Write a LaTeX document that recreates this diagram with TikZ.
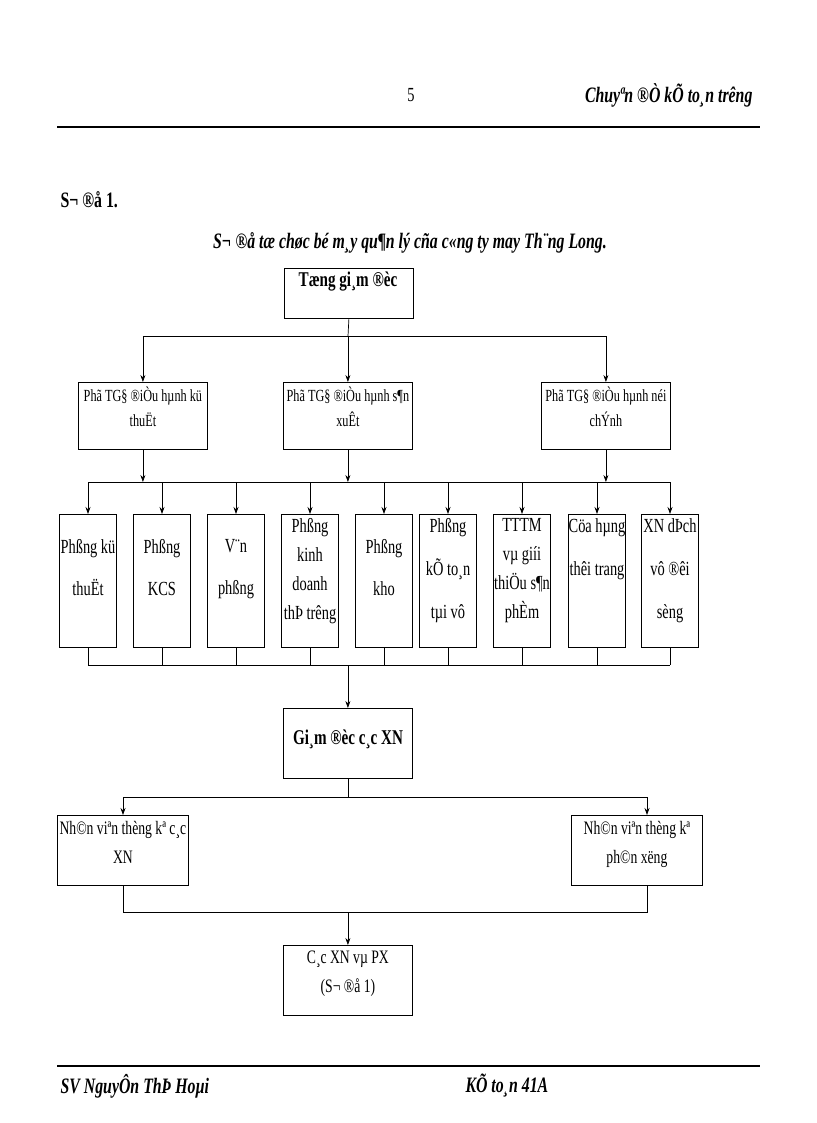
\documentclass[tikz,border=0pt]{standalone}
\usepackage{fontspec}
\setmainfont{Liberation Serif}[FakeStretch=0.72]
\usetikzlibrary{arrows.meta}
\begin{document}
\begin{tikzpicture}[x=1pt,y=-1pt,
  bx/.style={draw,line width=0.8pt,inner sep=0,anchor=north west},
  tx/.style={align=center,inner sep=0,anchor=north},
  ar/.style={-{Stealth[length=7pt,width=5pt]},line width=0.7pt},
  ln/.style={line width=0.7pt}]
\useasboundingbox (0,0) rectangle (816,1123);
% header/footer
\node[font=\fontsize{20}{20}\selectfont] (pg) at (411,95) {5};
\node[anchor=east,font=\bfseries\itshape\fontsize{22}{22}\selectfont] (hd) at (756,95) {Chuyªn ®Ò kÕ to¸n trêng};
\draw[line width=2.5pt] (57,127) -- (760,127);
\draw[line width=2.5pt] (57,1066) -- (760,1066);
\node[anchor=west,font=\bfseries\itshape\fontsize{22}{22}\selectfont] (f1) at (57,1086) {SV NguyÔn ThÞ Hoµi};
\node[anchor=west,font=\bfseries\itshape\fontsize{22}{22}\selectfont] (f2n) at (462,1086) {KÕ to¸n 41A};
\node[anchor=west,font=\bfseries\fontsize{22}{22}\selectfont] (s1) at (57,200) {S¬ ®å 1.};
\node[font=\bfseries\itshape\fontsize{22}{22}\selectfont] (ti) at (410,243) {S¬ ®å tæ chøc bé m¸y qu¶n lý cña c«ng ty may Th¨ng Long.};
% top
\node[bx,minimum width=129,minimum height=50] (top) at (284,268) {};
\node[tx,font=\bfseries\fontsize{21}{22}\selectfont] at (348,272) {Tæng gi¸m ®èc};
% level 2
\foreach \n/\x/\t in {a/78/{Phã TG§ ®iÒu hµnh kü\\thuËt},b/283/{Phã TG§ ®iÒu hµnh s¶n\\xuÊt},c/541/{Phã TG§ ®iÒu hµnh néi\\chÝnh}}{
  \node[bx,minimum width=129,minimum height=67] (\n) at (\x,382) {};
  \node[tx,font=\fontsize{17}{25}\selectfont] at (\n.north) [yshift=-5] {\t};
}
\coordinate (h1) at (348,336);
\draw[ln] (top.south) -- (h1);
\draw[ln] (a.north|-h1) -- (c.north|-h1);
\foreach \n in {a,b,c} \draw[ar] (\n.north|-h1) -- (\n.north);
% level 3
\foreach \n/\x in {p1/88,p2/162,p3/236,p4/310,p5/384,p6/448,p7/522,p8/597,p9/670}{
  \node[bx,anchor=north,minimum width=57,minimum height=133] (\n) at (\x,514) {};
}
\coordinate (h2) at (0,482);
\draw[ln] (p1.north|-h2) -- (p9.north|-h2);
\foreach \n in {a,b,c} \draw[ar] (\n.south) -- (\n.south|-h2);
\foreach \n in {p1,p2,p3,p4,p5,p6,p7,p8,p9} \draw[ar] (\n.north|-h2) -- (\n.north);
\node[tx,font=\fontsize{20}{42}\selectfont] at (88,539) {Phßng kü\\thuËt};
\node[tx,font=\fontsize{20}{42}\selectfont] at (162,539) {Phßng\\KCS};
\node[tx,font=\fontsize{20}{42}\selectfont] at (236,539) {V¨n\\phßng};
\node[tx,font=\fontsize{20}{29}\selectfont] at (310,518) {Phßng\\kinh\\doanh\\thÞ trêng};
\node[tx,font=\fontsize{20}{42}\selectfont] at (384,539) {Phßng\\kho};
\node[tx,font=\fontsize{20}{43}\selectfont] at (448,518) {Phßng\\kÕ to¸n\\tµi vô};
\node[tx,font=\fontsize{20}{29}\selectfont] at (522,518) {TTTM\\vµ giíi\\thiÖu s¶n\\phÈm};
\node[tx,font=\fontsize{20}{43}\selectfont] at (597,518) {Cöa hµng\\thêi trang};
\node[tx,font=\fontsize{20}{43}\selectfont] at (670,518) {XN dÞch\\vô ®êi\\sèng};
% giam doc
\node[bx,minimum width=129,minimum height=70] (gd) at (283,708) {};
\node[font=\bfseries\fontsize{21}{22}\selectfont] at (348,739) {Gi¸m ®èc c¸c XN};
\coordinate (h3) at (0,665);
\foreach \n in {p1,p2,p3,p4,p5,p6,p7,p8,p9} \draw[ln] (\n.south) -- (\n.south|-h3);
\draw[ln] (p1.south|-h3) -- (p9.south|-h3);
\draw[ar] (gd.north|-h3) -- (gd.north);
% staff
\node[bx,minimum width=131,minimum height=70] (nl) at (57,815) {};
\node[bx,minimum width=131,minimum height=70] (nr) at (571,815) {};
\node[tx,font=\fontsize{19}{29}\selectfont] at (nl.north) [yshift=-6] {Nh©n viªn thèng kª c¸c\\XN};
\node[tx,font=\fontsize{19}{29}\selectfont] at (nr.north) [yshift=-6] {Nh©n viªn thèng kª\\ph©n xëng};
\coordinate (h4) at (0,797);
\draw[ln] (gd.south) -- (gd.south|-h4);
\draw[ln] (123,797) -- (647,797);
\draw[ar] (123,797) -- (nl.north-|123,0);
\draw[ar] (647,797) -- (nr.north-|647,0);
% bottom
\node[bx,minimum width=129,minimum height=70] (bt) at (283,945) {};
\node[tx,font=\fontsize{19}{29}\selectfont] at (bt.north) [yshift=-6] {C¸c XN vµ PX\\(S¬ ®å 1)};
\coordinate (h5) at (0,912);
\draw[ln] (nl.south-|123,0) -- (123,912) -- (647,912) -- (nr.south-|647,0);
\draw[ar] (bt.north|-h5) -- (bt.north);
\end{tikzpicture}
\end{document}
